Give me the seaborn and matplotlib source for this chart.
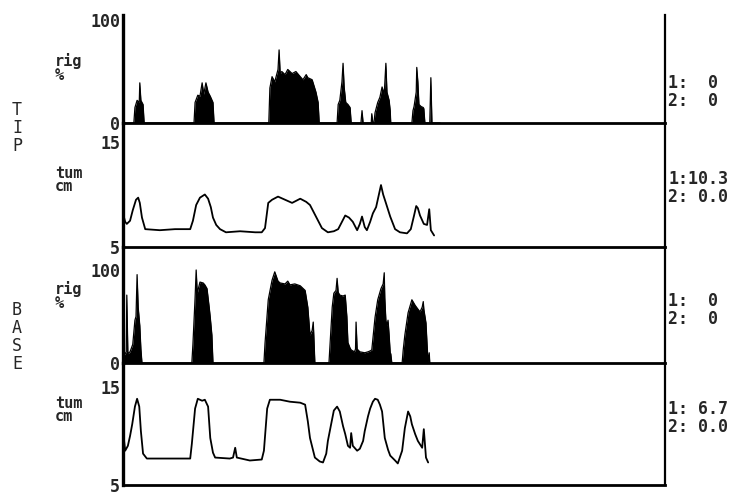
import numpy as np
import pandas as pd
import matplotlib
matplotlib.use("Agg")
import matplotlib.pyplot as plt
import seaborn as sns

# ---------------- data (time in hours) ----------------
tip_rig_t = [0.00, 0.20, 0.22, 0.26, 0.30, 0.31, 0.33, 0.37, 0.39,
             1.31, 1.33, 1.38, 1.42, 1.46, 1.49, 1.53, 1.57, 1.61, 1.66, 1.68,
             2.69, 2.71, 2.75, 2.80, 2.86, 2.88, 2.90, 2.93, 2.99, 3.04, 3.12, 3.19, 3.27,
             3.32, 3.38, 3.41, 3.49, 3.56, 3.60, 3.62,
             3.95, 3.97, 4.00, 4.04, 4.06, 4.08, 4.11, 4.15, 4.19, 4.21,
             4.39, 4.41, 4.43,
             4.58, 4.59, 4.61,
             4.63, 4.65, 4.70, 4.74, 4.78, 4.82, 4.85, 4.87, 4.91, 4.93, 4.94,
             5.33, 5.35, 5.37, 5.41, 5.42, 5.44, 5.46, 5.50, 5.54, 5.55, 5.57,
             5.66, 5.68, 5.70, 5.85]
tip_rig_v = [0, 0, 15, 22, 20, 39, 22, 18, 0,
             0, 20, 27, 26, 39, 28, 39, 30, 26, 20, 0,
             0, 34, 45, 40, 52, 71, 48, 50, 47, 52, 48, 50, 45,
             42, 47, 44, 42, 30, 20, 0,
             0, 18, 22, 40, 58, 35, 20, 18, 15, 0,
             0, 12, 0,
             0, 9, 0,
             0, 10, 20, 25, 35, 28, 58, 30, 22, 12, 0,
             0, 12, 16, 30, 54, 40, 18, 16, 15, 14, 0,
             0, 44, 0, 0]

tip_tum_t = [0.00, 0.04, 0.07, 0.13, 0.18, 0.24, 0.28, 0.31, 0.35, 0.41, 0.68, 0.96, 1.24,
             1.29, 1.35, 1.42, 1.51, 1.57, 1.62, 1.66, 1.72, 1.79, 1.90, 2.16, 2.44, 2.56,
             2.62, 2.68, 2.75, 2.86, 2.99, 3.12, 3.27, 3.38, 3.45, 3.52, 3.60, 3.67, 3.78,
             3.89, 3.97, 4.02, 4.10, 4.17, 4.24, 4.32, 4.37, 4.41, 4.46, 4.50, 4.56, 4.61,
             4.67, 4.70, 4.76, 4.80, 4.85, 4.93, 5.02, 5.11, 5.24, 5.31, 5.37, 5.41, 5.44,
             5.48, 5.55, 5.61, 5.65, 5.68, 5.74]
tip_tum_v = [8.2, 7.4, 7.2, 7.5, 8.5, 9.5, 9.7, 9.2, 7.8, 6.7, 6.6, 6.7, 6.7,
             7.5, 9.0, 9.7, 10.0, 9.6, 8.8, 7.8, 7.1, 6.7, 6.4, 6.5, 6.4, 6.4,
             6.8, 9.2, 9.5, 9.8, 9.5, 9.2, 9.6, 9.3, 9.0, 8.3, 7.5, 6.8, 6.4,
             6.5, 6.7, 7.2, 8.0, 7.8, 7.4, 6.6, 7.2, 7.9, 6.9, 6.6, 7.4, 8.2,
             8.8, 9.5, 10.9, 10.0, 9.2, 7.9, 6.7, 6.4, 6.3, 6.7, 8.0, 8.9, 8.7,
             8.0, 7.2, 7.1, 8.6, 6.6, 6.1]

base_rig_t = [0.00, 0.02, 0.06, 0.07, 0.09, 0.13, 0.18, 0.22, 0.24, 0.26, 0.28, 0.31, 0.33, 0.35,
              1.27, 1.29, 1.33, 1.35, 1.37, 1.42, 1.48, 1.51, 1.55, 1.59, 1.61, 1.64, 1.66,
              2.60, 2.62, 2.68, 2.75, 2.80, 2.86, 2.90, 2.99, 3.04, 3.08, 3.17, 3.27, 3.36,
              3.41, 3.45, 3.49, 3.51, 3.52, 3.54,
              3.80, 3.82, 3.86, 3.89, 3.93, 3.95, 3.97, 4.00, 4.06, 4.10, 4.13, 4.15, 4.19,
              4.21, 4.27, 4.29, 4.30, 4.32, 4.37, 4.46, 4.52, 4.56, 4.59, 4.65, 4.70, 4.76,
              4.80, 4.82, 4.83, 4.85, 4.87, 4.89, 4.91, 4.93, 4.94, 4.96,
              5.15, 5.17, 5.20, 5.26, 5.30, 5.33, 5.37, 5.39, 5.44, 5.48, 5.52, 5.54, 5.55,
              5.59, 5.61, 5.63, 5.65, 5.66]
base_rig_v = [0, 8, 12, 73, 10, 12, 20, 46, 50, 95, 60, 40, 15, 0,
              0, 20, 70, 100, 75, 87, 86, 84, 80, 60, 49, 30, 0,
              0, 21, 68, 89, 98, 88, 86, 85, 88, 84, 85, 83, 78,
              60, 30, 35, 44, 30, 0,
              0, 20, 60, 75, 78, 91, 76, 73, 72, 73, 50, 22, 16,
              14, 12, 15, 44, 15, 12, 11, 12, 13, 14, 49, 68, 80,
              85, 97, 70, 46, 40, 46, 30, 11, 10, 0,
              0, 14, 30, 54, 62, 68, 64, 62, 58, 55, 60, 66, 58,
              43, 20, 0, 11, 0]

base_tum_t = [0.00, 0.04, 0.09, 0.13, 0.17, 0.22, 0.26, 0.30, 0.33, 0.37, 0.44, 0.87, 1.24,
              1.27, 1.33, 1.38, 1.46, 1.51, 1.57, 1.61, 1.66, 1.70, 1.97, 2.03, 2.07, 2.10,
              2.34, 2.56, 2.60, 2.66, 2.71, 2.90, 3.08, 3.27, 3.36, 3.41, 3.45, 3.54, 3.63,
              3.69, 3.75, 3.78, 3.84, 3.89, 3.95, 4.00, 4.06, 4.10, 4.15, 4.19, 4.21, 4.24,
              4.32, 4.37, 4.43, 4.46, 4.52, 4.56, 4.61, 4.65, 4.70, 4.74, 4.78, 4.83, 4.89,
              4.93, 5.02, 5.07, 5.15, 5.20, 5.26, 5.30, 5.33, 5.39, 5.44, 5.52, 5.55, 5.59, 5.63]
base_tum_v = [10.5, 8.5, 9.0, 10.0, 11.2, 13.0, 13.8, 13.0, 10.5, 8.2, 7.7, 7.7, 7.7,
              9.2, 12.8, 13.8, 13.6, 13.7, 13.0, 9.8, 8.3, 7.8, 7.7, 7.8, 8.8, 7.8,
              7.5, 7.6, 8.5, 12.8, 13.7, 13.7, 13.5, 13.4, 13.2, 11.5, 9.8, 7.8, 7.4,
              7.3, 8.2, 9.5, 11.2, 12.6, 13.0, 12.5, 11.0, 10.2, 9.0, 8.8, 10.3, 9.0,
              8.5, 8.7, 9.5, 10.5, 12.0, 12.8, 13.5, 13.8, 13.7, 13.2, 12.5, 9.8, 8.6,
              8.0, 7.5, 7.2, 8.5, 10.8, 12.5, 12.0, 11.2, 10.2, 9.5, 8.8, 10.7, 7.8, 7.3]

side_labels = ["T\nI\nP", "B\nA\nS\nE"]
unit_labels = ["rig\n%", "tum\ncm", "rig\n%", "tum\ncm"]
readouts = ["1:  0\n2:  0", "1:10.3\n2: 0.0", "1:  0\n2:  0", "1: 6.7\n2: 0.0"]
rig_ticks = [0, 100]
rig_ticklabels = ["0", "100"]
tum_ticks = [5, 15]
tum_ticklabels = ["5", "15"]
hour_ticks = list(range(0, 11))

# ---------------- figure ----------------
sns.set_style("white")
plt.rcParams["font.family"] = ["DejaVu Sans Mono", "DejaVu Sans"]

W, H = 738, 500
fig = plt.figure(figsize=(W / 100, H / 100), dpi=100)
fig.patch.set_facecolor("white")

LEFT, RIGHT = 123, 665

def add_panel(top, bottom):
    return fig.add_axes([LEFT / W, 1 - bottom / H, (RIGHT - LEFT) / W, (bottom - top) / H])

panels = [
    (15, 123, (0, 104.9), "rig", tip_rig_t, tip_rig_v, rig_ticks, rig_ticklabels),
    (123, 247, (5, 16.81), "tum", tip_tum_t, tip_tum_v, tum_ticks, tum_ticklabels),
    (247, 363, (0, 124.7), "rig", base_rig_t, base_rig_v, rig_ticks, rig_ticklabels),
    (363, 485, (5, 17.45), "tum", base_tum_t, base_tum_v, tum_ticks, tum_ticklabels),
]

for top, bottom, ylim, kind, t, v, yt, ytl in panels:
    ax = add_panel(top, bottom)
    df = pd.DataFrame({"t": t, "v": v})
    if kind == "rig":
        ax.fill_between(df["t"], 0, df["v"], color="black", linewidth=0)
        sns.lineplot(data=df, x="t", y="v", ax=ax, color="black", lw=0.9,
                     estimator=None, sort=False)
    else:
        sns.lineplot(data=df, x="t", y="v", ax=ax, color="black", lw=1.3,
                     estimator=None, sort=False)
    ax.set_xlim(0, 10)
    ax.set_ylim(*ylim)
    ax.set_xlabel("")
    ax.set_ylabel("")
    ax.set_facecolor("none")
    ax.spines["top"].set_visible(False)
    ax.spines["left"].set_linewidth(2.4)
    ax.spines["bottom"].set_linewidth(2.0)
    ax.spines["right"].set_linewidth(1.6)
    for s in ["left", "bottom", "right"]:
        ax.spines[s].set_color("black")
    ax.set_xticks(hour_ticks)
    ax.set_xticklabels([])
    ax.tick_params(axis="x", direction="out", length=6, width=1.5, color="black")
    ax.set_yticks(yt)
    ax.set_yticklabels(ytl, fontsize=12, fontweight="bold")
    ax.tick_params(axis="y", length=0, pad=2)
    ax.grid(False)

def ftext(x, y, s, **kw):
    fig.text(x / W, 1 - y / H, s, **kw)

ftext(17, 128, side_labels[0], fontsize=12, ha="center", va="center", linespacing=1.0)
ftext(17, 337, side_labels[1], fontsize=12, ha="center", va="center", linespacing=1.0)

for (x, y), s in zip([(55, 68), (55, 180), (55, 296), (55, 410)], unit_labels):
    ftext(x, y, s, fontsize=11, fontweight="bold", ha="left", va="center", linespacing=0.9)

for y, s in zip([92, 188, 310, 418], readouts):
    ftext(668, y, s, fontsize=12, fontweight="bold", ha="left", va="center", linespacing=0.95)

fig.savefig("out.png", dpi=100, facecolor="white")
